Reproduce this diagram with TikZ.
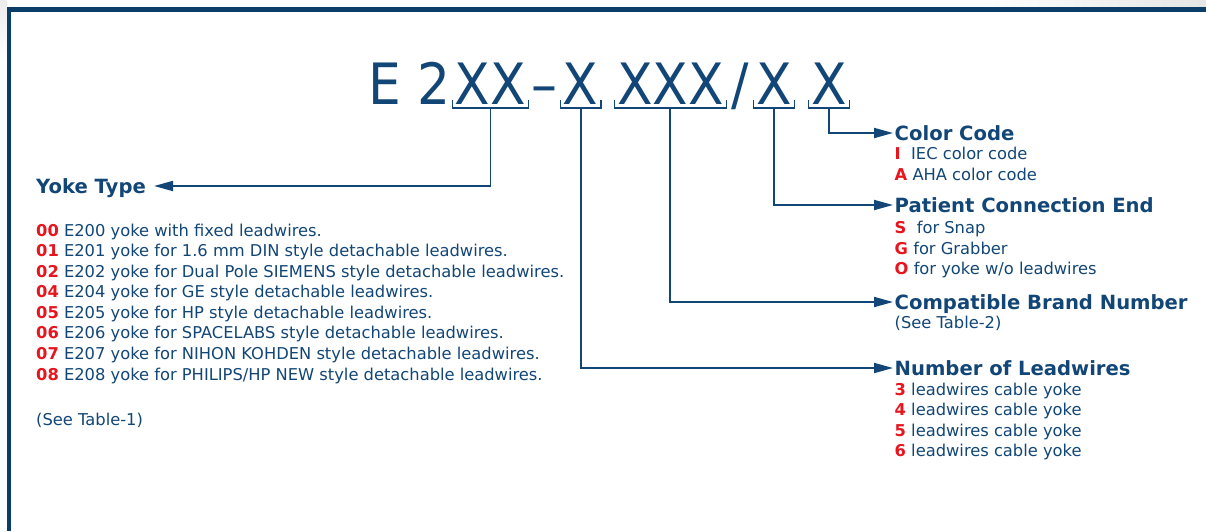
\documentclass[tikz,border=0pt]{standalone}
\usepackage{fontspec}
\setmainfont{DejaVu Sans}
\newfontfamily\titlefont{DejaVu Sans}[FakeStretch=0.91]
\usetikzlibrary{arrows.meta}
\definecolor{navy}{RGB}{18,70,118}
\definecolor{framec}{RGB}{10,62,105}
\definecolor{codered}{RGB}{232,20,30}
\newcommand{\rc}[1]{\textcolor{codered}{\textbf{#1}}}
\begin{document}
\begin{tikzpicture}[x=1pt,y=-1pt,
  title/.style={font=\titlefont\fontsize{57}{60}\selectfont, text=navy, inner sep=0pt, anchor=base},
  head/.style={font=\bfseries\fontsize{19.6}{22}\selectfont, text=navy, inner sep=0pt, text height=14.2pt, text depth=0pt, anchor=west},
  item/.style={font=\fontsize{16.3}{19}\selectfont, text=navy, inner sep=0pt, anchor=base west},
  brk/.style={draw=navy, line width=1.4pt},
  conn/.style={draw=navy, line width=1.8pt, -{Triangle[length=19pt,width=10pt]}}]
\useasboundingbox (0,0) rectangle (1206,531);
% faint background and frame
\shade[left color=white, right color=gray!20] (980,0) rectangle (1206,7.3);
\shade[top color=gray!15, bottom color=white] (0,0) rectangle (6.7,60);
\fill[framec] (6.7,7.3) rectangle (1206,11.7);
\fill[framec] (6.7,7.3) rectangle (11,531);
% title
\node[title] (te) at (409.7,104.5) {E 2};
\node[title] (g1) at (490.5,104.5) {XX};
\node[title] (td) at (544,104.5) {–};
\node[title] (g2) at (580.7,104.5) {X};
\node[title] (g3) at (670.3,104.5) {XXX};
\node[title] (ts) at (740,104.5) {/};
\node[title] (g4) at (774,104.5) {X};
\node[title] (g5) at (829,104.5) {X};
\foreach \g in {g1,g2,g3,g4,g5}{
  \draw[brk] ([shift={(-2.5,-4.5)}]\g.base west) -- ([shift={(-2.5,3.5)}]\g.base west)
     -- ([shift={(2.5,3.5)}]\g.base east) -- ([shift={(2.5,-4.5)}]\g.base east);
  \coordinate (\g b) at ([shift={(0,3.5)}]\g.base);
}
% headings
\node[head] (yt) at (36,186) {Yoke Type};
\node[head] (cc) at (894.5,133) {Color Code};
\node[head] (pc) at (894.5,205) {Patient Connection End};
\node[head] (cb) at (894.5,302) {Compatible Brand Number};
\node[head] (nl) at (894.5,368) {Number of Leadwires};
% connectors
\draw[conn] (g1b) |- ([xshift=8pt]yt.east);
\draw[conn] (g2b) |- ([xshift=-1.5pt]nl.west);
\draw[conn] (g3b) |- ([xshift=-1.5pt]cb.west);
\draw[conn] (g4b) |- ([xshift=-1.5pt]pc.west);
\draw[conn] (g5b) |- ([xshift=-1.5pt]cc.west);
% right items
\node[item] (ci1) at (894.5,159) {\rc{I}\ \ IEC color code};
\node[item] (ci2) at (894.5,180) {\rc{A} AHA color code};
\node[item] (pi1) at (894.5,233) {\rc{S}\ \ for Snap};
\node[item] (pi2) at (894.5,254) {\rc{G} for Grabber};
\node[item] (pi3) at (894.5,274) {\rc{O} for yoke w/o leadwires};
\node[item] (bi1) at (894.5,328) {(See Table-2)};
\node[item] (ni1) at (894.5,395) {\rc{3} leadwires cable yoke};
\node[item] (ni2) at (894.5,415) {\rc{4} leadwires cable yoke};
\node[item] (ni3) at (894.5,436) {\rc{5} leadwires cable yoke};
\node[item] (ni4) at (894.5,456) {\rc{6} leadwires cable yoke};
% left items
\node[item] (y0) at (36,236) {\rc{00} E200 yoke with fixed leadwires.};
\node[item] (y1) at (36,256.6) {\rc{01} E201 yoke for 1.6 mm DIN style detachable leadwires.};
\node[item] (y2) at (36,277.1) {\rc{02} E202 yoke for Dual Pole SIEMENS style detachable leadwires.};
\node[item] (y4) at (36,297.7) {\rc{04} E204 yoke for GE style detachable leadwires.};
\node[item] (y5) at (36,318.3) {\rc{05} E205 yoke for HP style detachable leadwires.};
\node[item] (y6) at (36,338.9) {\rc{06} E206 yoke for SPACELABS style detachable leadwires.};
\node[item] (y7) at (36,359.4) {\rc{07} E207 yoke for NIHON KOHDEN style detachable leadwires.};
\node[item] (y8) at (36,380) {\rc{08} E208 yoke for PHILIPS/HP NEW style detachable leadwires.};
\node[item] (st1) at (36,425) {(See Table-1)};
\end{tikzpicture}
\end{document}
